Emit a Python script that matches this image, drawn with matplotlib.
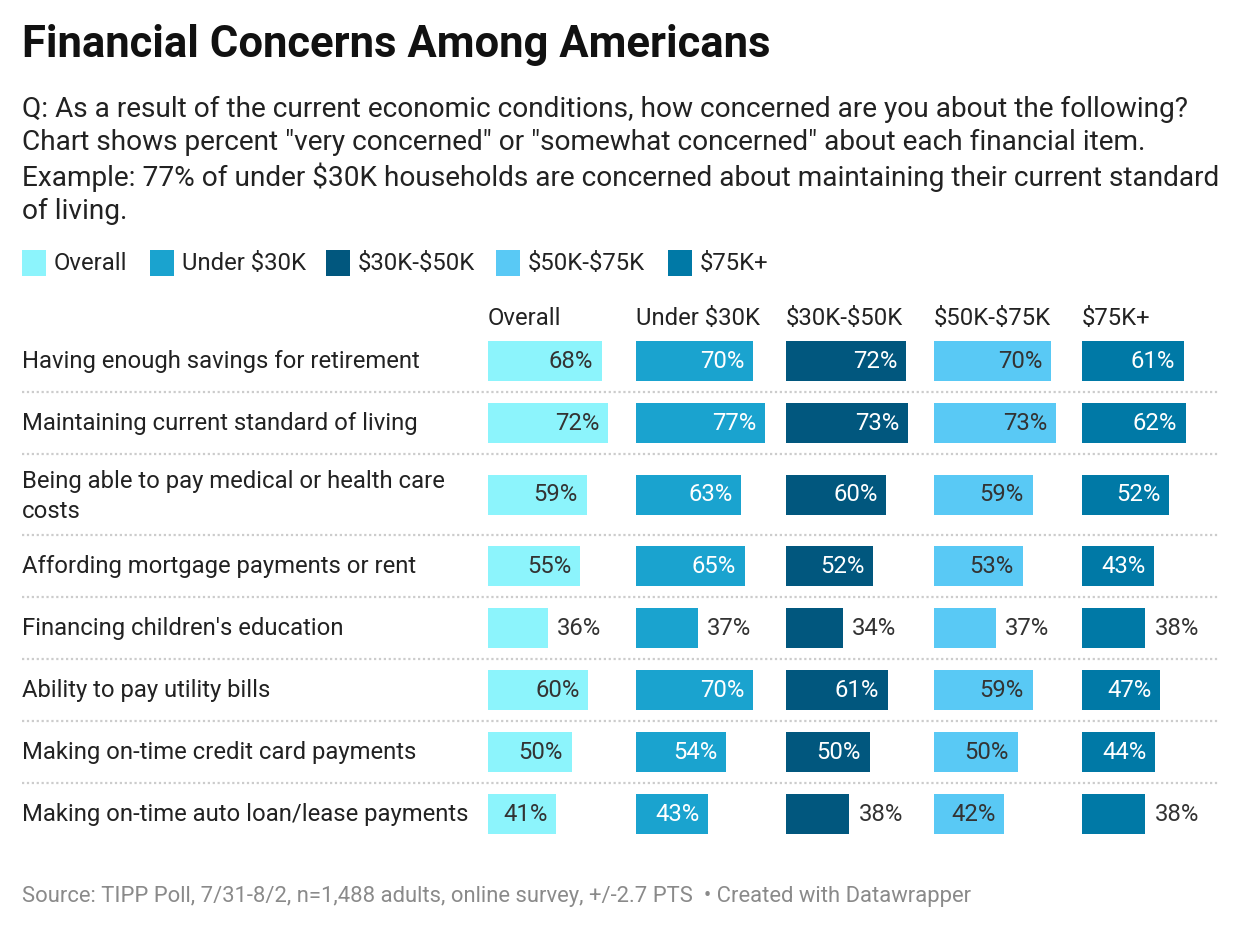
import matplotlib
matplotlib.use('Agg')
import matplotlib.pyplot as plt

plt.rcParams['font.family'] = ['Roboto', 'DejaVu Sans']
plt.rcParams['text.parse_math'] = False

items = ['Having enough savings for retirement',
         'Maintaining current standard of living',
         'Being able to pay medical or health care\ncosts',
         'Affording mortgage payments or rent',
         "Financing children's education",
         'Ability to pay utility bills',
         'Making on-time credit card payments',
         'Making on-time auto loan/lease payments']
groups = ['Overall', 'Under $30K', '$30K-$50K', '$50K-$75K', '$75K+']
overall = [68, 72, 59, 55, 36, 60, 50, 41]
under_30k = [70, 77, 63, 65, 37, 70, 54, 43]
k30_50 = [72, 73, 60, 52, 34, 61, 50, 38]
k50_75 = [70, 73, 59, 53, 37, 59, 50, 42]
k75_plus = [61, 62, 52, 43, 38, 47, 44, 38]
series = [overall, under_30k, k30_50, k50_75, k75_plus]

colors = ['#8cf4fc', '#1aa3cf', '#01577e', '#59c9f5', '#0079a6']
label_in = ['#333333', 'white', 'white', '#333333', 'white']

W, H = 1240, 930
fig = plt.figure(figsize=(12.4, 9.3), dpi=100)
bg = fig.add_axes([0, 0, 1, 1])
bg.set_xlim(0, W)
bg.set_ylim(H, 0)
bg.axis('off')

# layout (pixels)
row_h = [62, 62, 81, 62, 62, 62, 62, 62]
top = 330
edges = [top]
for h in row_h:
    edges.append(edges[-1] + h)
centers = [(edges[i] + edges[i + 1]) / 2 for i in range(len(row_h))]
col_x = [488, 636, 786, 934, 1082]
scale_w = 167  # pixels for 100%
fs = 17.2

bg.text(22, 45, 'Financial Concerns Among Americans', fontsize=31.4, fontweight='bold',
        color='#111111', va='center')
sub = ('Q: As a result of the current economic conditions, how concerned are you about the following?\n'
       'Chart shows percent "very concerned" or "somewhat concerned" about each financial item.\n'
       'Example: 77% of under $30K households are concerned about maintaining their current standard\n'
       'of living.')
bg.text(22, 96, sub, fontsize=20.2, color='#222222', va='top', linespacing=1.28)

# legend
leg_x = [22, 150, 326, 496, 668]
for i, g in enumerate(groups):
    bg.add_patch(plt.Rectangle((leg_x[i], 250), 24, 26, color=colors[i], lw=0))
    bg.text(leg_x[i] + 32, 263, g, fontsize=fs, color='#222222', va='center')

# headers
for i, g in enumerate(groups):
    bg.text(col_x[i], 318, g, fontsize=fs, color='#222222', va='center')

# row labels and separators
for i, it in enumerate(items):
    dy = 2 if '\n' in it else 0
    bg.text(22, centers[i] + dy, it, fontsize=fs, color='#222222', va='center', linespacing=1.38)
for e in edges[1:-1]:
    bg.plot([22, 1218], [e, e], color='#cccccc', lw=1.6, linestyle=(0, (1, 1.2)))

# bars
for i, vals in enumerate(series):
    ax = fig.add_axes([col_x[i] / W, 1 - edges[-1] / H, scale_w / W, (edges[-1] - top) / H])
    ax.set_xlim(0, 100)
    ax.set_ylim(edges[-1], top)
    ax.axis('off')
    ax.barh(centers, vals, height=40, color=colors[i], lw=0)
    for y, v in zip(centers, vals):
        if v >= 40:
            ax.annotate(f'{v}%', (v, y), xytext=(-6.2, 0), textcoords='offset points',
                        ha='right', va='center', fontsize=fs, color=label_in[i])
        else:
            ax.annotate(f'{v}%', (v, y), xytext=(6.5, 0), textcoords='offset points',
                        ha='left', va='center', fontsize=fs, color='#333333')

bg.text(22, 896, 'Source: TIPP Poll, 7/31-8/2, n=1,488 adults, online survey, +/-2.7 PTS  \u2022 Created with Datawrapper',
        fontsize=15.8, color='#8a8a8a', va='center')

fig.savefig('out.png', dpi=100)
